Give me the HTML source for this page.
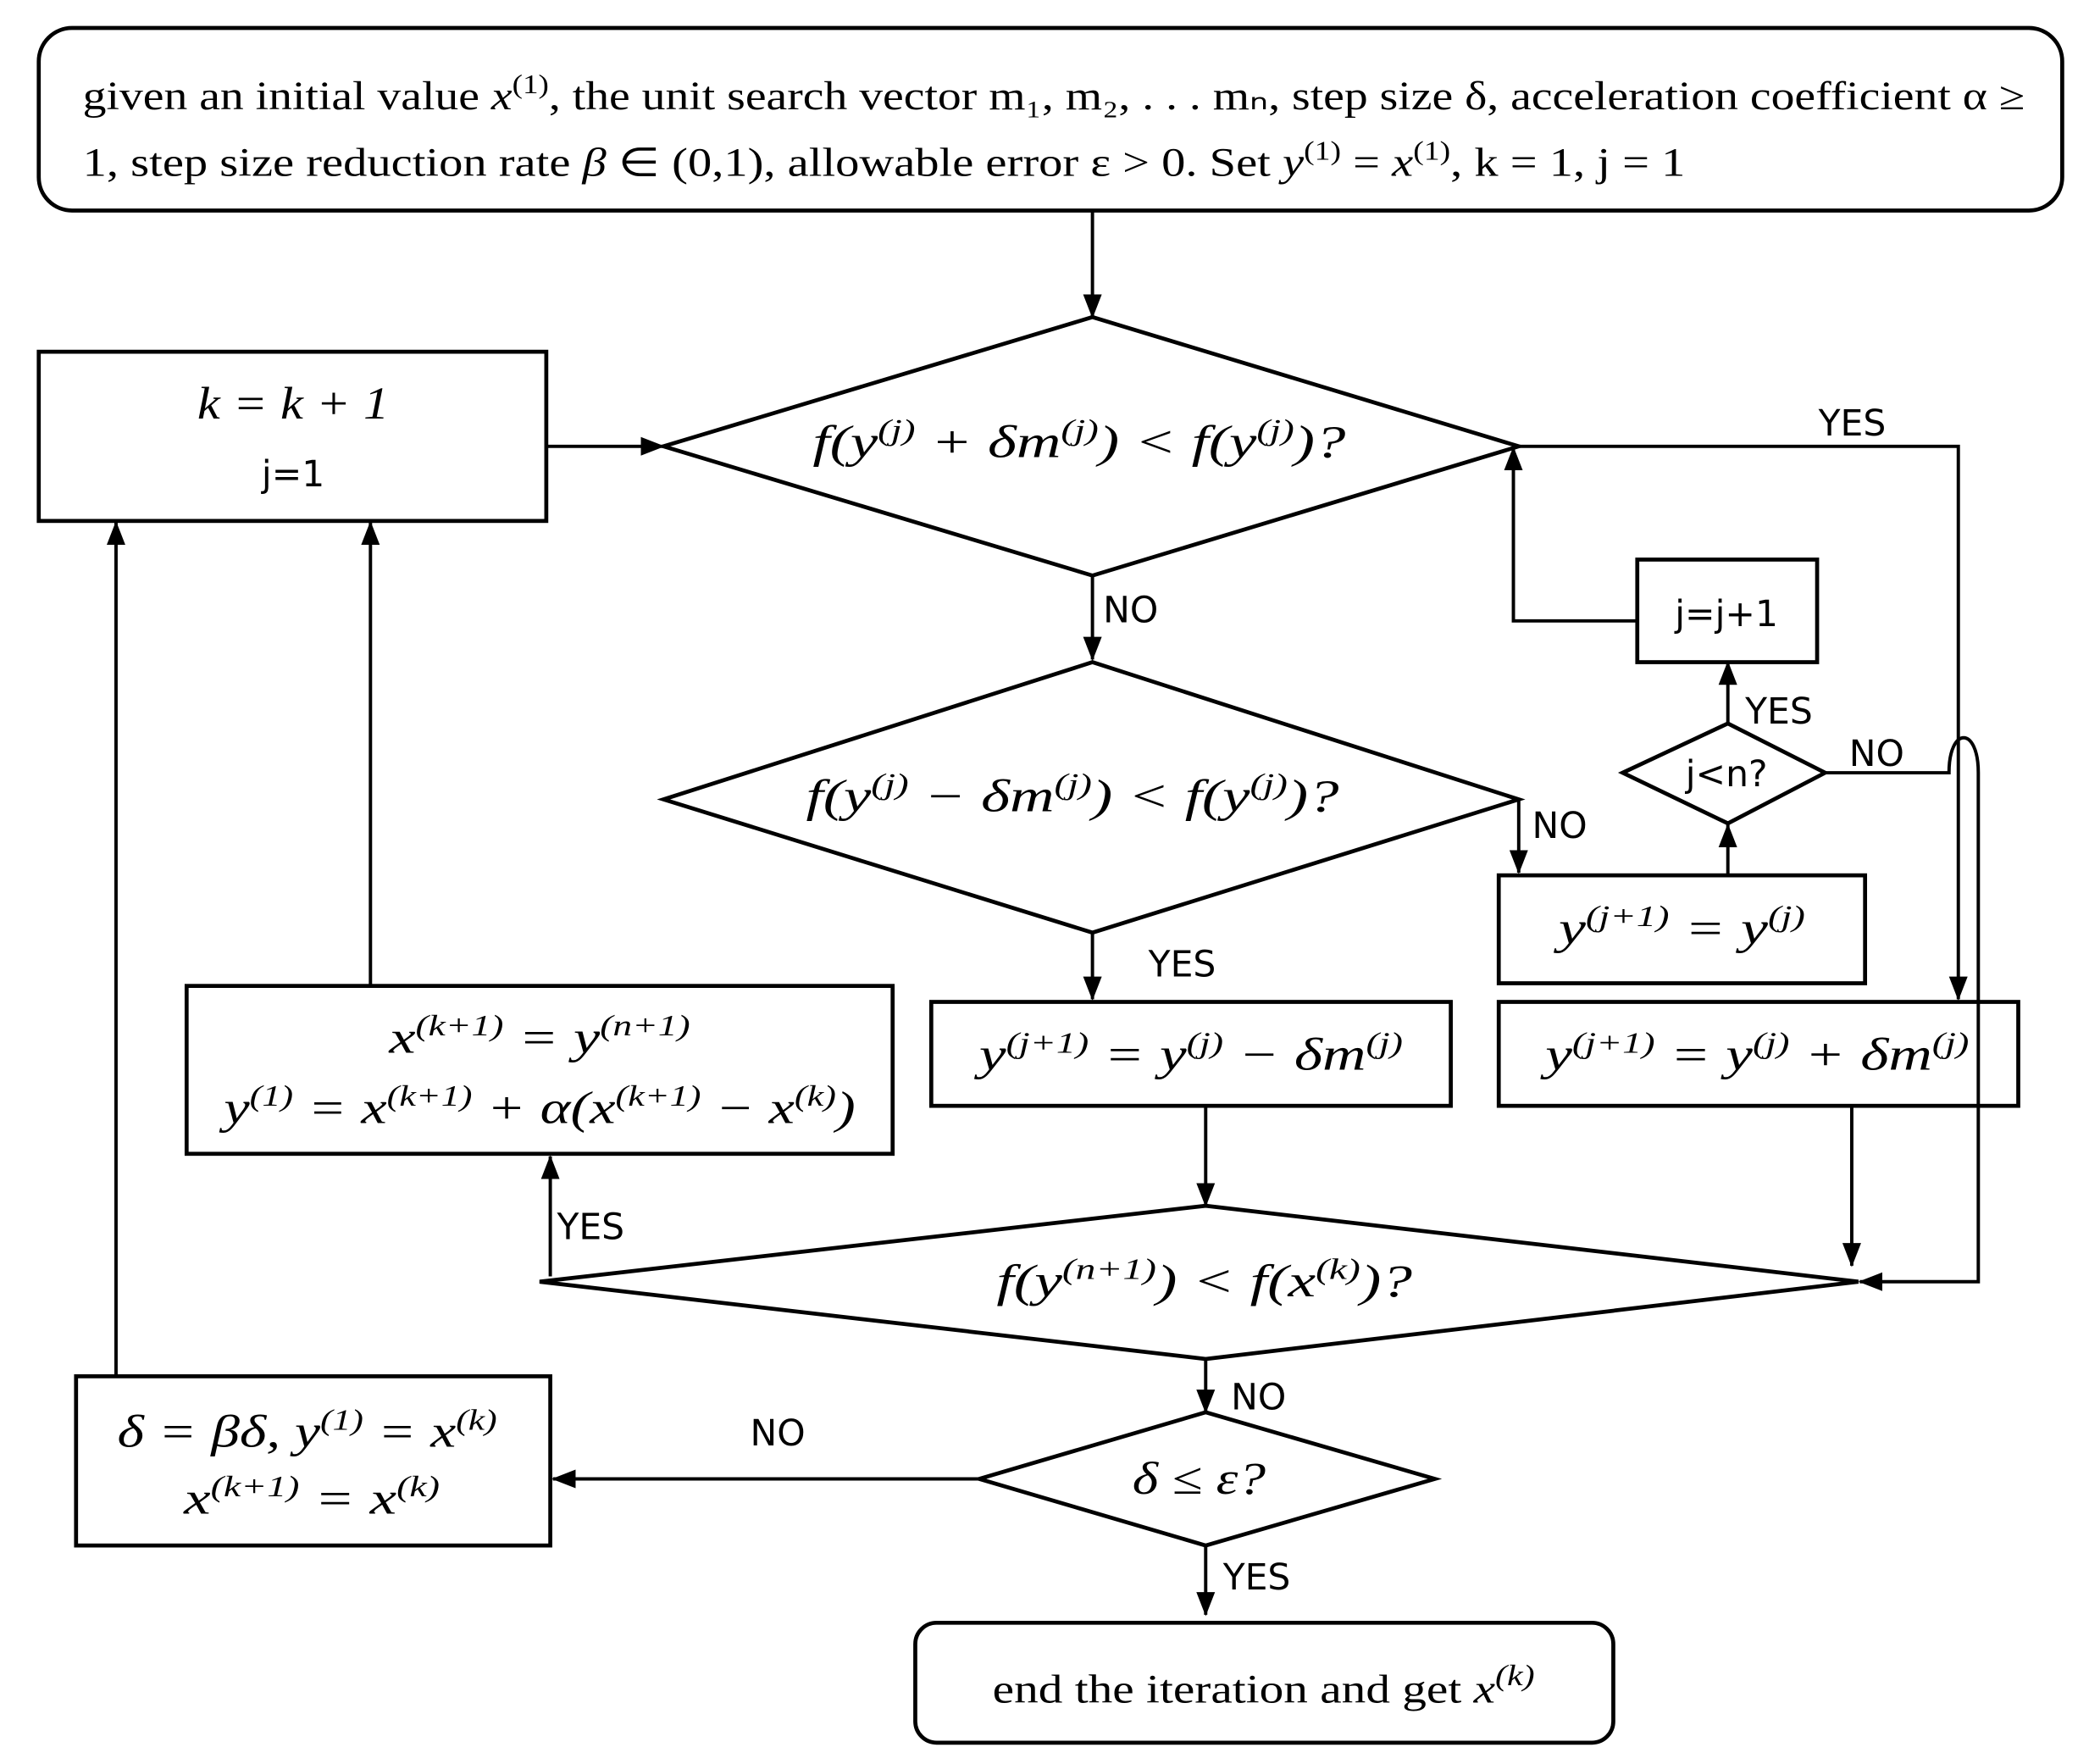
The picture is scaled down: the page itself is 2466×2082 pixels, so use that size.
<!DOCTYPE html>
<html><head><meta charset="utf-8"><style>
html,body{margin:0;padding:0;background:#fff;}
svg{display:block;}
.m{font-family:"Liberation Serif",serif;font-style:italic;font-size:34px;}
.s{font-family:"DejaVu Sans","Liberation Sans",sans-serif;font-size:27px;}
.t{font-family:"Liberation Serif",serif;font-size:30px;}
</style></head><body>
<svg width="2466" height="2082" viewBox="0 0 1568 1324" xmlns="http://www.w3.org/2000/svg">
<defs>
<marker id="b" markerWidth="18" markerHeight="18" refX="17" refY="9" orient="auto" markerUnits="userSpaceOnUse" viewBox="0 0 18 18"><path d="M0,2 L18,9 L0,16 z" fill="#000"/></marker></defs>
<g fill="none" stroke="#000" stroke-width="3">
<rect x="29" y="21" width="1519" height="137" rx="25"/>
<rect x="29" y="264" width="381" height="127"/>
<polygon points="498,335 820,238 1140,335 820,432"/>
<polygon points="498,600 820,497 1140,600 820,700"/>
<rect x="1229" y="420" width="135" height="77"/>
<polygon points="1218,580 1297,543 1370,580 1297,618"/>
<rect x="1125" y="657" width="275" height="81"/>
<rect x="1125" y="752" width="390" height="78"/>
<rect x="699" y="752" width="390" height="78"/>
<rect x="140" y="740" width="530" height="126"/>
<polygon points="405,962 905,905 1395,962 905,1020"/>
<polygon points="735,1110 905,1060 1077,1110 905,1160"/>
<rect x="57" y="1033" width="356" height="127"/>
<rect x="687" y="1218" width="524" height="90" rx="16"/>
</g>
<g fill="none" stroke="#000" stroke-width="2.5">
<line x1="820" y1="158" x2="820" y2="238" marker-end="url(#b)"/>
<line x1="410" y1="335" x2="498" y2="335" marker-end="url(#b)"/>
<line x1="820" y1="432" x2="820" y2="495" marker-end="url(#b)"/>
<polyline points="1140,600 1140,655" marker-end="url(#b)"/>
<line x1="1297" y1="657" x2="1297" y2="619" marker-end="url(#b)"/>
<line x1="1297" y1="543" x2="1297" y2="497" marker-end="url(#b)"/>
<polyline points="1229,466 1136,466 1136,336" marker-end="url(#b)"/>
<polyline points="1140,335 1470,335 1470,750" marker-end="url(#b)"/>
<path d="M1370,580 L1463,580 C1463,545 1485,545 1485,580 L1485,962 L1396,962" marker-end="url(#b)"/>
<line x1="1390" y1="830" x2="1390" y2="950" marker-end="url(#b)"/>
<line x1="820" y1="700" x2="820" y2="750" marker-end="url(#b)"/>
<line x1="905" y1="830" x2="905" y2="905" marker-end="url(#b)"/>
<line x1="413" y1="958" x2="413" y2="868" marker-end="url(#b)"/>
<line x1="278" y1="740" x2="278" y2="392" marker-end="url(#b)"/>
<line x1="905" y1="1020" x2="905" y2="1060" marker-end="url(#b)"/>
<line x1="735" y1="1110" x2="415" y2="1110" marker-end="url(#b)"/>
<line x1="87" y1="1033" x2="87" y2="392" marker-end="url(#b)"/>
<line x1="905" y1="1160" x2="905" y2="1212" marker-end="url(#b)"/>
</g>
<text class="t" x="62" y="82" textLength="1458" lengthAdjust="spacingAndGlyphs">given an initial value  <tspan font-style="italic">x</tspan><tspan font-size="20" dy="-12">(1)</tspan><tspan dy="12">, the unit search vector m₁, m₂, . . . mₙ, step size δ, acceleration coefficient α ≥</tspan></text>
<text class="t" x="62" y="132" textLength="1203" lengthAdjust="spacingAndGlyphs">1, step size reduction rate  <tspan font-style="italic">β</tspan> ∈ (0,1), allowable error ε &gt; 0. Set  <tspan font-style="italic">y</tspan><tspan font-size="20" dy="-12">(1)</tspan><tspan dy="12"> = </tspan><tspan font-style="italic">x</tspan><tspan font-size="20" dy="-12">(1)</tspan><tspan dy="12">, k = 1, j = 1</tspan></text>
<text class="m" x="148" y="314" textLength="144" lengthAdjust="spacingAndGlyphs">k = k + 1</text>
<text class="s" x="220" y="365" text-anchor="middle">j=1</text>
<text class="m" x="610" y="343" textLength="400" lengthAdjust="spacingAndGlyphs">f(y<tspan font-size="22" dy="-13">(j)</tspan><tspan dy="13"> + δm</tspan><tspan font-size="22" dy="-13">(j)</tspan><tspan dy="13">) &lt; f(y</tspan><tspan font-size="22" dy="-13">(j)</tspan><tspan dy="13">)?</tspan></text>
<text class="m" x="605" y="609" textLength="400" lengthAdjust="spacingAndGlyphs">f(y<tspan font-size="22" dy="-13">(j)</tspan><tspan dy="13"> − δm</tspan><tspan font-size="22" dy="-13">(j)</tspan><tspan dy="13">) &lt; f(y</tspan><tspan font-size="22" dy="-13">(j)</tspan><tspan dy="13">)?</tspan></text>
<text class="s" x="1296" y="470" text-anchor="middle">j=j+1</text>
<text class="s" x="1296" y="590" text-anchor="middle">j&lt;n?</text>
<text class="m" x="1170" y="708" textLength="185" lengthAdjust="spacingAndGlyphs">y<tspan font-size="22" dy="-13">(j+1)</tspan><tspan dy="13"> = y</tspan><tspan font-size="22" dy="-13">(j)</tspan></text>
<text class="m" x="1160" y="803" textLength="318" lengthAdjust="spacingAndGlyphs">y<tspan font-size="22" dy="-13">(j+1)</tspan><tspan dy="13"> = y</tspan><tspan font-size="22" dy="-13">(j)</tspan><tspan dy="13"> +  δm</tspan><tspan font-size="22" dy="-13">(j)</tspan></text>
<text class="m" x="735" y="803" textLength="318" lengthAdjust="spacingAndGlyphs">y<tspan font-size="22" dy="-13">(j+1)</tspan><tspan dy="13"> = y</tspan><tspan font-size="22" dy="-13">(j)</tspan><tspan dy="13"> −  δm</tspan><tspan font-size="22" dy="-13">(j)</tspan></text>
<text class="m" x="292" y="790" textLength="226" lengthAdjust="spacingAndGlyphs">x<tspan font-size="22" dy="-13">(k+1)</tspan><tspan dy="13"> = y</tspan><tspan font-size="22" dy="-13">(n+1)</tspan></text>
<text class="m" x="168" y="843" textLength="474" lengthAdjust="spacingAndGlyphs">y<tspan font-size="22" dy="-13">(1)</tspan><tspan dy="13"> = x</tspan><tspan font-size="22" dy="-13">(k+1)</tspan><tspan dy="13"> + α(x</tspan><tspan font-size="22" dy="-13">(k+1)</tspan><tspan dy="13"> − x</tspan><tspan font-size="22" dy="-13">(k)</tspan><tspan dy="13">)</tspan></text>
<text class="m" x="748" y="973" textLength="312" lengthAdjust="spacingAndGlyphs">f(y<tspan font-size="22" dy="-13">(n+1)</tspan><tspan dy="13">) &lt; f(x</tspan><tspan font-size="22" dy="-13">(k)</tspan><tspan dy="13">)?</tspan></text>
<text class="m" x="850" y="1121" textLength="100" lengthAdjust="spacingAndGlyphs">δ ≤ ε?</text>
<text class="m" x="88" y="1086" textLength="285" lengthAdjust="spacingAndGlyphs">δ = βδ, y<tspan font-size="22" dy="-13">(1)</tspan><tspan dy="13"> = x</tspan><tspan font-size="22" dy="-13">(k)</tspan></text>
<text class="m" x="138" y="1136" textLength="192" lengthAdjust="spacingAndGlyphs">x<tspan font-size="22" dy="-13">(k+1)</tspan><tspan dy="13"> = x</tspan><tspan font-size="22" dy="-13">(k)</tspan></text>
<text class="t" x="745" y="1278" textLength="407" lengthAdjust="spacingAndGlyphs">end the iteration and get  <tspan font-style="italic">x</tspan><tspan font-size="22" dy="-13" font-style="italic">(k)</tspan></text>
<g class="s">
<text x="828" y="467">NO</text>
<text x="1365" y="327">YES</text>
<text x="1150" y="629">NO</text>
<text x="1310" y="543">YES</text>
<text x="1388" y="575">NO</text>
<text x="862" y="733">YES</text>
<text x="418" y="930">YES</text>
<text x="924" y="1058">NO</text>
<text x="563" y="1085">NO</text>
<text x="918" y="1193">YES</text>
</g>
</svg>
</body></html>
